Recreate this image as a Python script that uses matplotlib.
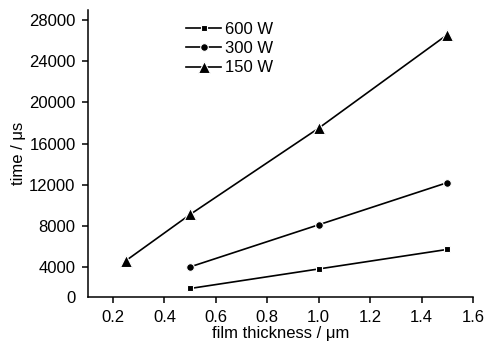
import matplotlib
matplotlib.use("Agg")
import matplotlib.pyplot as plt

plt.rcParams['font.family'] = ['Liberation Sans', 'DejaVu Sans']

# film thickness (um)
x_150 = [0.25, 0.5, 1.0, 1.5]
x_300 = [0.5, 1.0, 1.5]
x_600 = [0.5, 1.0, 1.5]

# time (us)
t_150 = [4600, 9100, 17500, 26600]
t_300 = [4000, 8100, 12200]
t_600 = [1900, 3800, 5700]

y_ticks = [4000, 8000, 12000, 16000, 20000, 24000, 28000]
x_ticks = [0.2, 0.4, 0.6, 0.8, 1.0, 1.2, 1.4, 1.6]

fig = plt.figure(figsize=(4.87, 3.45), dpi=100)
ax = fig.add_axes([0.1807, 0.1391, 0.7906, 0.832])

#series
ax.plot(x_600, t_600, color="black", lw=1.2, marker='s', markersize=5,
        mec="white", mew=0.8, label="600 W")
ax.plot(x_300, t_300, color="black", lw=1.2, marker='o', markersize=5.5,
        mec="white", mew=0.8, label="300 W")
ax.plot(x_150, t_150, color="black", lw=1.2, marker='^', markersize=8,
        mec="white", mew=0.8, label="150 W")

# axes
y_bottom = 1070
ax.set_xlim(0.103, 1.6)
ax.set_ylim(y_bottom, 29000)
ax.set_xticks(x_ticks)
ax.set_xticklabels(["0.2", "0.4", "0.6", "0.8", "1.0", "1.2", "1.4", "1.6"])
ax.set_yticks([y_bottom] + y_ticks)
ax.set_yticklabels(["0"] + [str(v) for v in y_ticks])
ax.tick_params(direction='out', length=4, width=1.1, labelsize=12, pad=5)
ax.yaxis.get_major_ticks()[0].tick1line.set_visible(False)

for s in ['top', 'right']:
    ax.spines[s].set_visible(False)
for s in ['left', 'bottom']:
    ax.spines[s].set_linewidth(1.1)

ax.set_xlabel("film thickness / \u03bcm", fontsize=12, labelpad=1)
ax.set_ylabel("time / \u03bcs", fontsize=12)
ax.yaxis.set_label_coords(-0.16, 0.5)

ax.legend(loc='upper left', bbox_to_anchor=(0.255, 0.958), frameon=False,
          fontsize=12, handlelength=2.1, handletextpad=0.2,
          labelspacing=0.25, borderpad=0, borderaxespad=0)

plt.savefig("out.png", dpi=100)
